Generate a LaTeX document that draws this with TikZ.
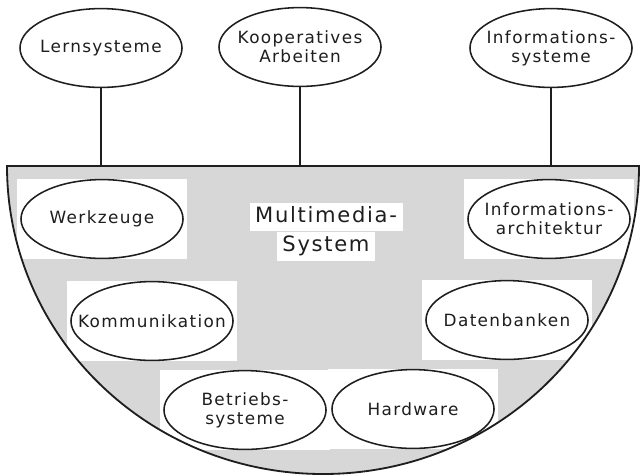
\documentclass[tikz,border=0pt]{standalone}
\usepackage{fontspec}
\setmainfont{DejaVu Sans}[LetterSpace=8.0]
\usetikzlibrary{shapes.geometric,backgrounds,positioning}
\definecolor{inkblack}{HTML}{1E1E1E}
\definecolor{stipplegray}{HTML}{D7D7D7}

\tikzset{
  bubble/.style={
    ellipse,
    draw=inkblack,
    line width=1.1pt,
    fill=white,
    minimum width=4.05cm,
    minimum height=1.97cm,
    inner xsep=-0.47cm,
    inner ysep=0pt,
    align=center,
    text=inkblack,
    font=\fontsize{12}{13.5}\selectfont
  },
  headline/.style={
    fill=white,
    inner xsep=4pt,
    inner ysep=2pt,
    text height=12pt,
    text depth=4.5pt,
    text=inkblack,
    font=\fontsize{15}{18}\selectfont
  },
  link/.style={draw=inkblack, line width=1.1pt},
  rim/.style={draw=inkblack, line width=1.3pt}
}

\begin{document}
\begin{tikzpicture}[x=0.025cm, y=-0.025cm]
  \useasboundingbox (0,0) rectangle (642,475);

  % application fields above the bowl
  \node[bubble] (lern) at (101,48) {Lernsysteme};
  \node[bubble] (koop) at (300,47) {Kooperatives\\Arbeiten};
  \node[bubble] (infsys) at (551,48) {Informations-\\systeme};

  % rim of the bowl
  \coordinate (rimL) at (7,166);
  \coordinate (rimR) at (639,166);

  % components inside the bowl
  \node[bubble] (werk) at (102,219) {Werkzeuge};
  \node[bubble] (infarch) at (549,219) {Informations-\\architektur};
  \node[bubble] (komm) at (152,321) {Kommunikation};
  \node[bubble] (daten) at (507,320) {Datenbanken};
  \node[bubble] (betrieb) at (245,410) {Betriebs-\\systeme};
  \node[bubble] (hard) at (413,409) {Hardware};

  \node[headline] (multi) at (326,217) {Multimedia-};
  \node[headline, below=0pt of multi] (sys) {System};

  \draw[link] (lern) -- (lern |- rimL);
  \draw[link] (koop) -- (koop |- rimL);
  \draw[link] (infsys) -- (infsys |- rimL);

  \begin{scope}[on background layer]
    \fill[stipplegray] (rimL) -- (rimR)
      arc[start angle=0, end angle=180, x radius=316, y radius=308] -- cycle;
    \begin{scope}
      \clip (rimL) -- (rimR)
        arc[start angle=0, end angle=180, x radius=316, y radius=308] -- cycle;
      \foreach \n in {werk,infarch,komm,daten,betrieb,hard}
        \fill[white] ([xshift=-2pt]\n.west |- \n.north) rectangle ([xshift=2pt]\n.east |- \n.south);
    \end{scope}
    \draw[rim] (rimL) -- (rimR)
      arc[start angle=0, end angle=180, x radius=316, y radius=308] -- cycle;
  \end{scope}
\end{tikzpicture}
\end{document}
